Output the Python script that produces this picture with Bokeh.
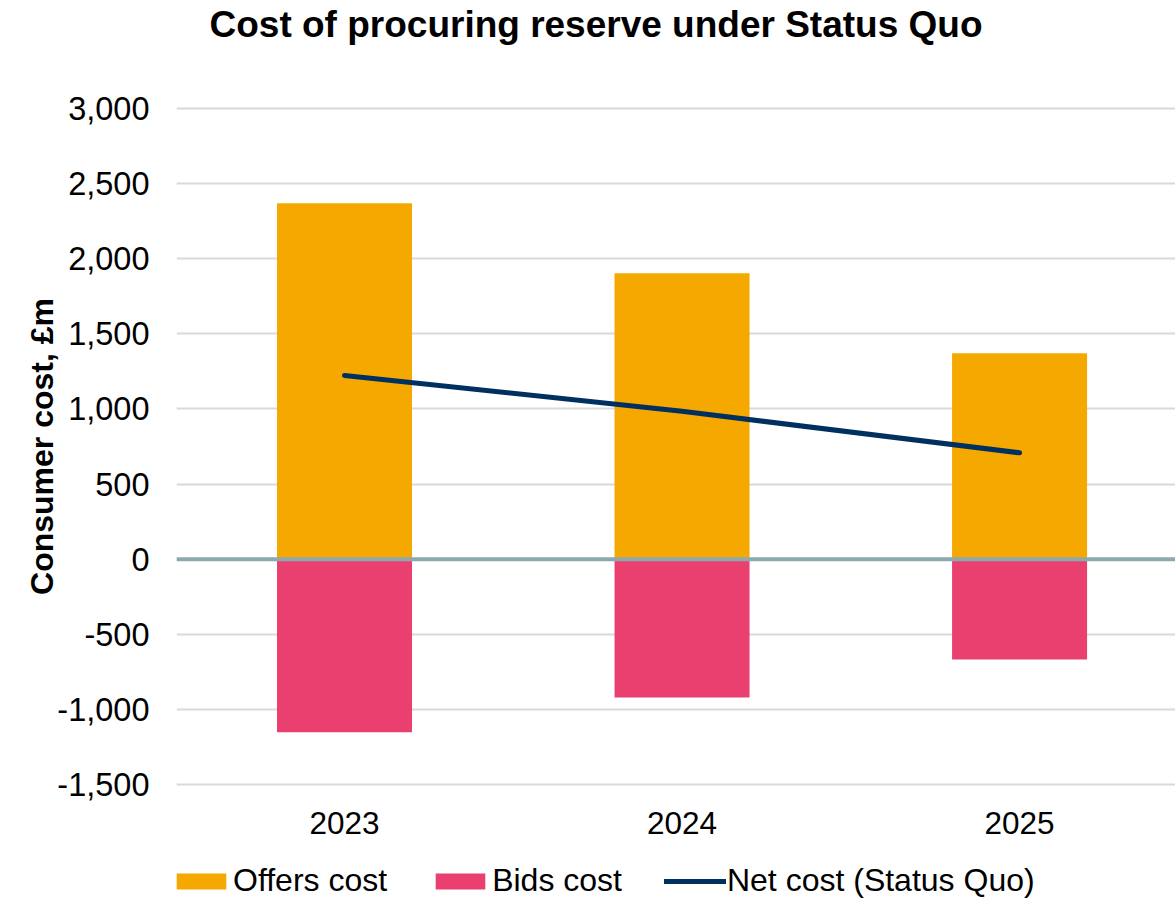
from bokeh.plotting import figure
from bokeh.layouts import column
from bokeh.models import (Range1d, SingleIntervalTicker, FixedTicker, NumeralTickFormatter,
                          Span, Legend, LegendItem, Label, ColumnDataSource)
from bokeh.embed import file_html
from bokeh.resources import INLINE

# ---- data ----
years = ["2023", "2024", "2025"]
offers_cost = [2367, 1902, 1370]
bids_cost = [-1150, -918, -665]
net_cost = [1222, 984, 708]
title_text = "Cost of procuring reserve under Status Quo"

FONT = "Liberation Sans"
ORANGE = "#F5A800"
PINK = "#E94070"
NAVY = "#00305F"

xpos = list(range(len(years)))
src = ColumnDataSource(dict(x=xpos, year=years, offers=offers_cost, bids=bids_cost, net=net_cost))

W = 1175
H_TITLE = 48
H_LEG = 50
H_MAIN = 899 - H_TITLE - H_LEG


def strip(h, xr, yr):
    f = figure(width=W, height=h, output_backend="svg", toolbar_location=None,
               x_range=xr, y_range=yr, x_axis_location=None, y_axis_location=None,
               min_border_left=0, min_border_right=0, min_border_top=0, min_border_bottom=0)
    f.title = None
    f.outline_line_color = None
    f.xgrid.grid_line_color = None
    f.ygrid.grid_line_color = None
    return f


# ---- title strip ----
tf = strip(H_TITLE, Range1d(0, 1), Range1d(0, 1))
tf.add_layout(Label(x=33, y=H_TITLE - 24, x_units="screen", y_units="screen", text=title_text,
                    text_font=FONT, text_font_size="37px", text_font_style="bold",
                    text_color="black", text_baseline="middle", text_align="left"))

# ---- main chart ----
p = figure(width=W, height=H_MAIN, output_backend="svg", toolbar_location=None,
           x_range=Range1d(-0.4978, 2.462), y_range=Range1d(-1510, 3010),
           min_border_left=176, min_border_right=0, min_border_top=106 - H_TITLE,
           min_border_bottom=63)
p.title = None
p.outline_line_color = None
p.background_fill_color = "white"
p.border_fill_color = "white"

r_off = p.vbar(x="x", top="offers", bottom=0, width=0.4, source=src,
               fill_color=ORANGE, line_color=None)
r_bid = p.vbar(x="x", top=0, bottom="bids", width=0.4, source=src,
               fill_color=PINK, line_color=None)

zero = Span(location=0, dimension="width", line_color="#8EA9AE", line_width=4)
p.add_layout(zero)

r_net = p.line(x="x", y="net", source=src, line_color=NAVY, line_width=5, line_cap="round")

p.yaxis.ticker = SingleIntervalTicker(interval=500)
p.yaxis.formatter = NumeralTickFormatter(format="0,0")
p.yaxis.axis_line_color = None
p.yaxis.major_tick_line_color = None
p.yaxis.minor_tick_line_color = None
p.yaxis.major_label_text_font = FONT
p.yaxis.major_label_text_font_size = "32.5px"
p.yaxis.major_label_text_color = "black"
p.yaxis.major_label_standoff = 21
p.yaxis.axis_label = "Consumer cost, £m"
p.yaxis.axis_label_text_font = FONT
p.yaxis.axis_label_text_font_size = "32px"
p.yaxis.axis_label_text_font_style = "bold"
p.yaxis.axis_label_text_color = "black"
p.yaxis.axis_label_standoff = -6

p.xaxis.ticker = FixedTicker(ticks=xpos)
p.xaxis.major_label_overrides = {i: y for i, y in zip(xpos, years)}
p.xaxis.axis_line_color = None
p.xaxis.major_tick_line_color = None
p.xaxis.minor_tick_line_color = None
p.xaxis.major_label_text_font = FONT
p.xaxis.major_label_text_font_size = "31.5px"
p.xaxis.major_label_text_color = "black"
p.xaxis.major_label_standoff = 19
p.xaxis.axis_label_standoff = 0

p.xgrid.grid_line_color = None
p.ygrid.grid_line_color = "#D9D9D9"
p.ygrid.grid_line_width = 2

# ---- legend strip (frame aligned with the chart's frame) ----
lg = strip(H_LEG, Range1d(100, 200), Range1d(10000, 10001))
# same series, outside the strip's visible ranges; used only as legend keys
l_off = lg.vbar(x="x", top="offers", width=0.4, source=src, fill_color=ORANGE, line_color=None)
l_bid = lg.vbar(x="x", top="bids", width=0.4, source=src, fill_color=PINK, line_color=None)
l_net = lg.line(x="x", y="net", source=src, line_color=NAVY, line_width=5, line_cap="round")

legend = Legend(items=[LegendItem(label="Offers cost", renderers=[l_off]),
                       LegendItem(label="Bids cost", renderers=[l_bid]),
                       LegendItem(label="Net cost (Status Quo)", renderers=[l_net])],
                orientation="horizontal", location=(-6, 0),
                glyph_width=62, glyph_height=20, label_standoff=1, spacing=42,
                label_text_font=FONT, label_text_font_size="32px", label_text_color="black",
                padding=0, margin=0, border_line_color=None, background_fill_alpha=0)
lg.add_layout(legend, "center")

layout = column(tf, p, lg, spacing=0)
open("out.html", "w").write(file_html(layout, INLINE))
